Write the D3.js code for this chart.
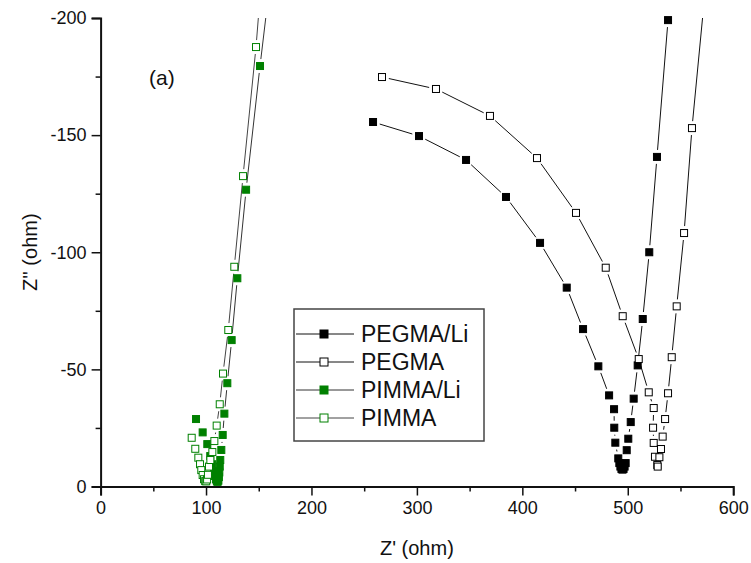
<!DOCTYPE html>
<html>
<head>
<meta charset="utf-8">
<script src="https://cdn.jsdelivr.net/npm/d3@7"></script>
<style>
body { margin: 0; background: #fff; }
text { font-family: "Liberation Sans", Arial, sans-serif; fill: #111; }
</style>
</head>
<body>
<div id="canvas"></div>
<script>
// Z' (ohm), Z'' (ohm); last point of some series sits above -200 so the line leaves the frame
const pegmaLi = [[258.4,-155.6],[302,-149.6],[346.6,-139.4],[384.5,-123.6],[416.8,-104],[442.1,-84.9],
  [457.6,-67.2],[472.1,-51.3],[482.3,-38.9],[487,-33],[487.2,-25.1],[488.2,-18.7],[491,-12],[492,-10],
  [493,-8.5],[494,-7.5],[495,-7.2],[496,-7.5],[497,-8.5],[498,-10],[499,-15.5],[500.5,-20.4],
  [502.8,-27.5],[505.6,-37.5],[509.4,-51.7],[514.2,-71.5],[520.4,-100],[527.7,-140.7],[538.2,-199.1]];
const pegma = [[266.9,-174.8],[318.1,-169.7],[369.3,-158.2],[413.9,-140.2],[450.9,-116.8],[479.1,-93.4],
  [495.2,-72.7],[510.4,-54.4],[519.9,-40.2],[524.6,-33.5],[524,-25.1],[524.6,-18.6],[525.8,-12.7],
  [528,-9.2],[528.4,-8.5],[530,-12.5],[531.5,-16],[533.1,-21.3],[535.4,-28.8],[538.2,-39.8],
  [541.7,-55.2],[546.4,-76.9],[553.4,-108.2],[560.9,-153],[572,-205]];
const pimmaLi = [[90.5,-28.8],[96.8,-23.1],[101.2,-18.1],[104,-13],[106,-9.5],[107.5,-6.5],[108.5,-4.5],
  [109.5,-3],[110.3,-2.2],[111,-2],[111.7,-2.5],[112.2,-4],[112.6,-6],[113,-8.5],[113.5,-11.3],
  [114.5,-15.6],[115.8,-22],[117.4,-31.1],[120.2,-44.1],[124.3,-62.5],[129.7,-88.9],[138,-126.7],
  [151.2,-179.5],[158.5,-207]];
const pimma = [[86.4,-20.8],[89.8,-16.1],[92.7,-12.3],[94.3,-9.5],[95.5,-7],[96.8,-4.9],[98.1,-3.1],
  [99.2,-2.3],[100.2,-2.2],[101,-3],[101.8,-5],[102.8,-8.5],[104.1,-11.3],[106,-14.7],[107.9,-19.4],
  [110.1,-26],[113,-35.1],[116.1,-48.2],[121.1,-66.8],[126.8,-93.8],[135.1,-132.5],[147.4,-187.6],
  [150.5,-205]];

const seriesNames = ["PEGMA/Li", "PEGMA", "PIMMA/Li", "PIMMA"];
const xTicks = [0, 100, 200, 300, 400, 500, 600];
const yTicks = [0, -50, -100, -150, -200];

const w = 751, h = 563;
const mLeft = 100.6, mRight = 733.2, mTop = 18, mBottom = 486.5;

const series = [
  {name: seriesNames[0], data: pegmaLi, color: "#000", fill: "#000", line: "#111"},
  {name: seriesNames[1], data: pegma, color: "#000", fill: "#fff", line: "#111"},
  {name: seriesNames[2], data: pimmaLi, color: "#008000", fill: "#008000", line: "#333"},
  {name: seriesNames[3], data: pimma, color: "#008000", fill: "#fff", line: "#444"}
];

const svg = d3.select("#canvas").append("svg")
  .attr("width", w).attr("height", h)
  .attr("viewBox", [0, 0, w, h]);

const x = d3.scaleLinear().domain([0, 600]).range([mLeft, mRight]);
const y = d3.scaleLinear().domain([0, -200]).range([mBottom, mTop]);

svg.append("clipPath").attr("id", "plot")
  .append("rect").attr("x", mLeft).attr("y", mTop).attr("width", mRight - mLeft + 20).attr("height", mBottom - mTop);

// line segments stop short of the markers, like the original plot
const gap = 7;
const gLines = svg.append("g").attr("clip-path", "url(#plot)");
series.forEach(s => {
  const p = s.data.map(d => [x(d[0]), y(d[1])]);
  for (let i = 1; i < p.length; i++) {
    const dx = p[i][0] - p[i-1][0], dy = p[i][1] - p[i-1][1];
    const len = Math.hypot(dx, dy);
    if (len <= 2 * gap + 1) continue;
    const ux = dx / len, uy = dy / len;
    const endGap = (i == p.length - 1 && s.data[i][1] < -200) ? 0 : gap;
    gLines.append("line")
      .attr("x1", p[i-1][0] + ux * gap).attr("y1", p[i-1][1] + uy * gap)
      .attr("x2", p[i][0] - ux * endGap).attr("y2", p[i][1] - uy * endGap)
      .attr("stroke", s.line).attr("stroke-width", 1);
  }
});

const ms = 7;
series.forEach(s => {
  svg.append("g").selectAll("rect")
    .data(s.data.filter(d => d[1] >= -200))
    .enter().append("rect")
      .attr("x", d => x(d[0]) - ms / 2)
      .attr("y", d => y(d[1]) - ms / 2)
      .attr("width", ms).attr("height", ms)
      .attr("fill", s.fill)
      .attr("stroke", s.color)
      .attr("stroke-width", 1);
});

// axes
const xAxis = d3.axisBottom(x).tickValues(xTicks).tickSize(9).tickPadding(6).tickFormat(d => String(d));
const xMinor = d3.axisBottom(x).tickValues(d3.range(50, 600, 100)).tickSize(5).tickFormat("");
const yAxis = d3.axisLeft(y).tickValues(yTicks).tickSize(9).tickPadding(5).tickFormat(d => String(d));
const yMinor = d3.axisLeft(y).tickValues(d3.range(-25, -200, -50)).tickSize(5).tickFormat("");

function styleAxis(g) {
  g.select(".domain").attr("stroke", "#111").attr("stroke-width", 2);
  g.selectAll(".tick line").attr("stroke", "#111").attr("stroke-width", 1.5);
  g.selectAll("text").attr("font-size", 18).attr("fill", "#111")
    .style("font-family", "'Liberation Sans', Arial, sans-serif");
}

const gX = svg.append("g").attr("transform", "translate(0," + mBottom + ")");
gX.call(xAxis).call(styleAxis);
svg.append("g").attr("transform", "translate(0," + mBottom + ")").call(xMinor).call(styleAxis)
  .select(".domain").remove();
const gY = svg.append("g").attr("transform", "translate(" + mLeft + ",0)");
gY.call(yAxis).call(styleAxis);
svg.append("g").attr("transform", "translate(" + mLeft + ",0)").call(yMinor).call(styleAxis)
  .select(".domain").remove();

svg.append("text").attr("x", (mLeft + mRight) / 2).attr("y", 555)
  .attr("text-anchor", "middle").attr("font-size", 20).text("Z' (ohm)");
svg.append("text").attr("transform", "translate(37," + ((mTop + mBottom) / 2) + ") rotate(-90)")
  .attr("text-anchor", "middle").attr("font-size", 20).text("Z'' (ohm)");
svg.append("text").attr("x", 149).attr("y", 85).attr("font-size", 21).text("(a)");

// legend
const lg = svg.append("g");
lg.append("rect").attr("x", 294).attr("y", 309).attr("width", 190).attr("height", 132)
  .attr("fill", "#fff").attr("stroke", "#444").attr("stroke-width", 1.5);
series.forEach((s, i) => {
  const cy = 334 + i * 28;
  lg.append("line").attr("x1", 296).attr("x2", 354).attr("y1", cy).attr("y2", cy)
    .attr("stroke", s.line).attr("stroke-width", 1);
  lg.append("rect").attr("x", 324 - ms / 2 - 0.5).attr("y", cy - ms / 2 - 0.5)
    .attr("width", ms + 1).attr("height", ms + 1)
    .attr("fill", s.fill).attr("stroke", s.color).attr("stroke-width", 1);
  lg.append("text").attr("x", 361).attr("y", cy + 8).attr("font-size", 23).text(s.name);
});
</script>
</body>
</html>
